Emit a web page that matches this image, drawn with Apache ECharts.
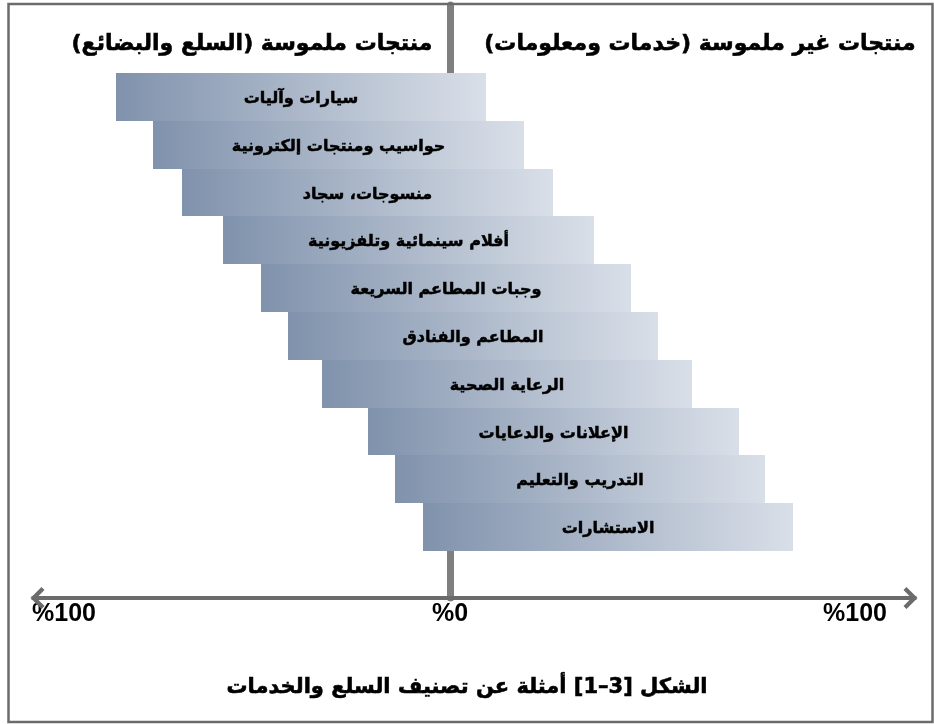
<!DOCTYPE html>
<html>
<head>
<meta charset="utf-8">
<title>تصنيف السلع والخدمات</title>
<script src="https://cdn.jsdelivr.net/npm/echarts@6/dist/echarts.min.js"></script>
<style>
  html, body { margin: 0; padding: 0; background: #ffffff; }
  #chart { width: 934px; height: 724px; }
</style>
</head>
<body>
<div id="chart" dir="rtl"></div>
<script>
// Product categories, from the most tangible (top) to the most intangible (bottom)
const categories = [
  'سيارات وآليات',
  'حواسيب ومنتجات إلكترونية',
  'منسوجات، سجاد',
  'أفلام سينمائية وتلفزيونية',
  'وجبات المطاعم السريعة',
  'المطاعم والفنادق',
  'الرعاية الصحية',
  'الإعلانات والدعايات',
  'التدريب والتعليم',
  'الاستشارات'
];

// Extent of each product on the tangible side (negative %) and the intangible side (positive %)
const tangibleExtent   = [-83.5, -74.25, -67, -56.75, -47.25, -40.5, -32, -20.5, -13.75, -6.75];
const intangibleExtent = [8.9, 18.4, 25.75, 36, 45.25, 52, 60.5, 72.25, 78.75, 85.75];

// Axis ticks and their labels
const tickValues = [-100, 0, 100];
const tickLabels = ['%100', '%0', '%100'];

// Header and caption texts (the figure number is isolated as a left-to-right run)
const leftHeader  = 'منتجات ملموسة (السلع والبضائع)';
const rightHeader = 'منتجات غير ملموسة (خدمات ومعلومات)';
const caption     = 'الشكل \u2066[1–3]\u2069 أمثلة عن تصنيف السلع والخدمات';

const arabicFont = '"DejaVu Sans", "Noto Sans", sans-serif';
const latinFont  = '"Liberation Sans", Arial, sans-serif';

const X_MIN = -103, X_MAX = 115;
const GRID_LEFT = 38, GRID_RIGHT = 24;

// open chevron arrow head with a short stem, pointing up (rotated by the axis)
const arrowHead = 'path://M11 0 L22 11 L19 14 L11 6 L3 14 L0 11 Z M9 1 L13 1 L13 15 L9 15 Z';

const barData = categories.map((name, i) => [tangibleExtent[i], intangibleExtent[i], i]);

const chart = echarts.init(document.getElementById('chart'), null, { renderer: 'canvas' });

// bold Arabic text with a thin outline to thicken the strokes
function heavyText(text, size) {
  return {
    text: text, fontFamily: arabicFont, fontWeight: 'bold', fontSize: size,
    fill: '#000', stroke: '#000', lineWidth: 0.6,
    align: 'center', verticalAlign: 'middle'
  };
}

chart.setOption({
  animation: false,
  backgroundColor: '#ffffff',
  grid: [
    { left: GRID_LEFT, right: GRID_RIGHT, top: 73, bottom: 173 },
    { left: GRID_LEFT, right: GRID_RIGHT, top: 5, bottom: 126 }
  ],
  xAxis: [
    {
      gridIndex: 0, type: 'value', min: X_MIN, max: X_MAX,
      show: false
    },
    {
      gridIndex: 1, type: 'value', min: X_MIN, max: X_MAX,
      axisLine: {
        show: true, onZero: false,
        lineStyle: { color: '#6b6b6b', width: 4 },
        symbol: [arrowHead, arrowHead],
        symbolSize: [22, 15]
      },
      axisTick: { show: false },
      splitLine: { show: false },
      axisLabel: {
        show: true,
        customValues: tickValues,
        margin: 4,
        formatter: function (value) {
          const i = tickValues.indexOf(value);
          const key = i === 0 ? 'l' : (i === 1 ? 'c' : 'r');
          return '{' + key + '|' + tickLabels[i] + '}';
        },
        rich: {
          l: { fontFamily: latinFont, fontWeight: 'bold', fontSize: 25, color: '#000', padding: [0, 0, 0, 28] },
          c: { fontFamily: latinFont, fontWeight: 'bold', fontSize: 25, color: '#000', padding: [0, 0, 0, 0] },
          r: { fontFamily: latinFont, fontWeight: 'bold', fontSize: 25, color: '#000', padding: [0, 0, 0, 10] }
        }
      }
    }
  ],
  yAxis: [
    {
      gridIndex: 0, type: 'category', data: categories, inverse: true,
      show: false
    },
    {
      // vertical divider between tangible and intangible, placed on x = 0
      gridIndex: 1, type: 'value', min: 0, max: 1,
      axisLine: { show: true, onZero: true, lineStyle: { color: '#7f7f7f', width: 7 } },
      axisTick: { show: false },
      axisLabel: { show: false },
      splitLine: { show: false }
    }
  ],
  series: [
    {
      type: 'custom',
      xAxisIndex: 0,
      yAxisIndex: 0,
      z: 5,
      encode: { x: [0, 1], y: 2 },
      data: barData,
      renderItem: function (params, api) {
        const start = api.coord([api.value(0), api.value(2)]);
        const end = api.coord([api.value(1), api.value(2)]);
        const h = api.size([0, 1])[1];
        const y0 = Math.round(start[1] - h / 2);
        const y1 = Math.round(start[1] + h / 2);
        const x0 = Math.round(start[0]);
        const x1 = Math.round(end[0]);
        return {
          type: 'rect',
          shape: { x: x0, y: y0, width: x1 - x0, height: y1 - y0 },
          style: {
            fill: new echarts.graphic.LinearGradient(0, 0, 1, 0, [
              { offset: 0, color: '#8092ac' },
              { offset: 1, color: '#d9dfe8' }
            ])
          },
          textContent: {
            style: {
              text: categories[params.dataIndex],
              fontFamily: arabicFont,
              fontWeight: 'bold',
              fontSize: 16,
              fill: '#000000',
              stroke: '#000000',
              lineWidth: 0.5
            }
          },
          textConfig: { position: 'inside', offset: [0, 2] }
        };
      }
    }
  ],
  graphic: [
    {
      type: 'rect', silent: true, z: 100,
      shape: { x: 8.5, y: 4, width: 924, height: 718 },
      style: { fill: 'none', stroke: '#6b6b6b', lineWidth: 2.5 }
    },
    { type: 'text', z: 100, x: 252, y: 44, style: heavyText(leftHeader, 22) },
    { type: 'text', z: 100, x: 700, y: 44, style: heavyText(rightHeader, 22) },
    { type: 'text', z: 100, x: 467, y: 688, style: heavyText(caption, 21) }
  ]
});
</script>
</body>
</html>
